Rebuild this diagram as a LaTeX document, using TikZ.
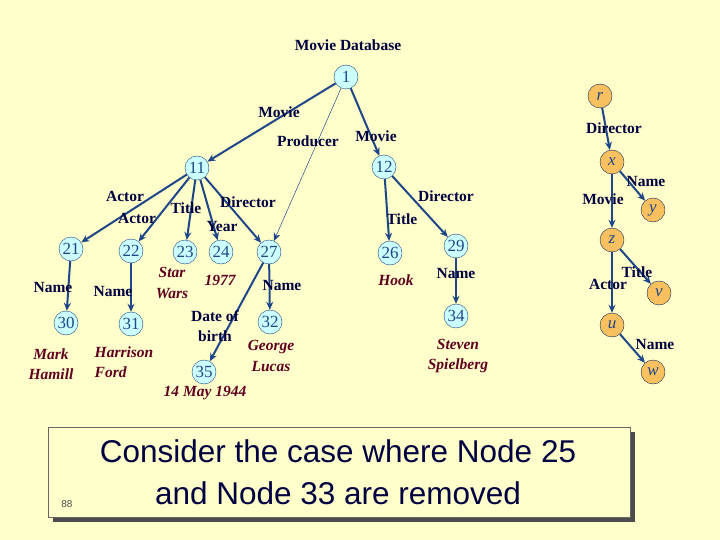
\documentclass[tikz,border=0pt]{standalone}
\usepackage{fontspec}
\setmainfont{Liberation Serif}
\newfontfamily\sansf{Liberation Sans}
\usetikzlibrary{arrows.meta}
\definecolor{bg}{HTML}{FFFFCC}
\definecolor{nb}{HTML}{CCFFFF}
\definecolor{no}{HTML}{F9C060}
\definecolor{eb}{HTML}{1F4788}
\definecolor{lab}{HTML}{000040}
\definecolor{val}{HTML}{600020}
\begin{document}
\begin{tikzpicture}[x=1pt,y=-1pt,
 bn/.style={circle,draw=eb,fill=nb,minimum size=24pt,inner sep=0pt,font=\fontsize{17}{17}\selectfont,text=eb},
 on/.style={circle,draw=eb!60!black,fill=no,minimum size=24pt,inner sep=0pt,font=\fontsize{17}{17}\selectfont\itshape,text=eb},
 e/.style={draw=eb,line width=2pt,-{Stealth[length=8pt,width=7pt]}},
 l/.style={font=\fontsize{15.5}{15.5}\selectfont\bfseries,text=lab,inner sep=0pt},
 v/.style={font=\fontsize{15.5}{15.5}\selectfont\bfseries\itshape,text=val,inner sep=0pt}]
\fill[bg] (0,0) rectangle (720,540);
\useasboundingbox (0,0) rectangle (720,540);
\node[l] (t) at (348,45) {Movie Database};
\node[bn] (n1) at (346,77) {1};
\node[bn] (n11) at (197,168) {11};
\node[bn] (n12) at (384,167) {12};
\node[bn] (n21) at (71,249) {21};
\node[bn] (n22) at (131,251) {22};
\node[bn] (n23) at (185,252) {23};
\node[bn] (n24) at (221,252) {24};
\node[bn] (n27) at (269,252) {27};
\node[bn] (n30) at (66,323) {30};
\node[bn] (n31) at (131,324) {31};
\node[bn] (n32) at (270,322) {32};
\node[bn] (n35) at (204,372) {35};
\node[bn] (n26) at (390,253) {26};
\node[bn] (n29) at (456,246) {29};
\node[bn] (n34) at (456,316) {34};
\node[on] (r) at (600,96) {r};
\node[on] (x) at (612,162) {x};
\node[on] (y) at (653,210) {y};
\node[on] (z) at (612,240) {z};
\node[on] (v) at (659,293) {v};
\node[on] (u) at (612,325) {u};
\node[on] (w) at (653,372) {w};
\draw[e] (n1)--(n11); \draw[e] (n1)--(n12);
\draw[e,line width=0.5pt] (n1)--(n27);
\draw[e] (n11)--(n21); \draw[e] (n11)--(n22); \draw[e] (n11)--(n23);
\draw[e] (n11)--(n24); \draw[e] (n11)--(n27);
\draw[e] (n21)--(n30); \draw[e] (n22)--(n31); \draw[e] (n27)--(n32); \draw[e] (n27)--(n35);
\draw[e] (n12)--(n26); \draw[e] (n12)--(n29); \draw[e] (n29)--(n34);
\draw[e] (r)--(x); \draw[e] (x)--(y); \draw[e] (x)--(z); \draw[e] (z)--(v); \draw[e] (z)--(u); \draw[e] (u)--(w);
\node[l] (a1) at (279,112) {Movie};
\node[l] (a2) at (308,141) {Producer};
\node[l] (a3) at (376,136) {Movie};
\node[l] (a4) at (125,196) {Actor};
\node[l] (a5) at (137,218) {Actor};
\node[l] (a6) at (186,208) {Title};
\node[l] (a7) at (248,202) {Director};
\node[l] (a8) at (222,227) {Year};
\node[l] (a9) at (282,286) {Name};
\node[l] (a10) at (53,288) {Name};
\node[l] (a11) at (113,292) {Name};
\node[l,align=center] (a12) at (215,326) {Date of\\[5pt]birth};
\node[l] (a13) at (446,196) {Director};
\node[l] (a14) at (402,219) {Title};
\node[l] (a15) at (456,274) {Name};
\node[l] (b1) at (614,128) {Director};
\node[l] (b2) at (646,182) {Name};
\node[l] (b3) at (603,199) {Movie};
\node[l] (b4) at (637,272) {Title};
\node[l] (b5) at (608,284) {Actor};
\node[l] (b6) at (655,344) {Name};
\node[v,align=center] (c1) at (172,283) {Star\\[5pt]Wars};
\node[v] (c2) at (220,280) {1977};
\node[v,align=center] (c3) at (271,356) {George\\[5pt]Lucas};
\node[v,align=center] (c4) at (51,364) {Mark\\[5pt]Hamill};
\node[v,align=left] (c5) at (124,362) {Harrison\\[5pt]Ford};
\node[v] (c6) at (205,393) {14 May 1944};
\node[v] (c7) at (396,280) {Hook};
\node[v,align=center] (c8) at (458,356) {Steven\\[5pt]Spielberg};
\fill[black!70] (53,432) rectangle (635,522);
\node[draw=black!60,fill=bg,minimum width=582pt,minimum height=90pt,anchor=north west,inner sep=0pt] (box) at (48,427) {};
\node[font=\sansf\fontsize{31.5}{31.5}\selectfont,text=lab,align=center] (msg) at (338,472) {Consider the case where Node 25\\[10pt]and Node 33 are removed};
\node[font=\sansf\fontsize{10}{10}\selectfont,text=black!70] (pg) at (67,504) {88};
\end{tikzpicture}
\end{document}
